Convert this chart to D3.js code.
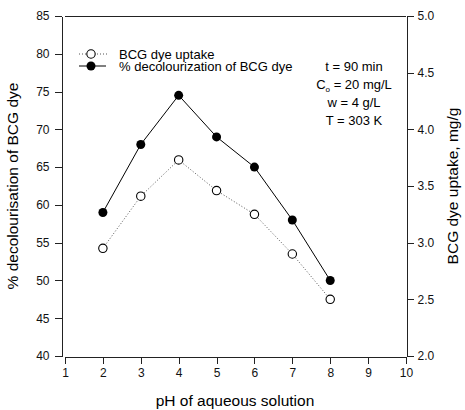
<!DOCTYPE html>
<html>
<head>
<meta charset="utf-8">
<script src="https://cdn.jsdelivr.net/npm/d3@7"></script>
<style>
body { margin: 0; background: #fff; }
svg { font-family: "Liberation Sans", Arial, sans-serif; }
.axis path, .axis line { stroke: #222; stroke-width: 1; shape-rendering: crispEdges; }
.axis text { font-size: 12px; fill: #111; }
</style>
</head>
<body>
<svg id="chart" width="465" height="410"></svg>
<script>

var phValues = [2, 3, 4, 5, 6, 7, 8];
var decolourisation = [59, 68, 74.5, 69, 65, 58, 50];
var uptake = [2.95, 3.41, 3.73, 3.46, 3.25, 2.90, 2.50];

var xTicks = [1, 2, 3, 4, 5, 6, 7, 8, 9, 10];
var leftTicks = [40, 45, 50, 55, 60, 65, 70, 75, 80, 85];
var rightTicks = [2.0, 2.5, 3.0, 3.5, 4.0, 4.5, 5.0];

var legendLabels = ["BCG dye uptake", "% decolourization of BCG dye"];
var conditions = ["t = 90 min", "C|o| = 20 mg/L", "w = 4 g/L", "T = 303 K"];


var svg = d3.select("#chart");

var plotLeft = 65, plotRight = 406, plotTop = 16, plotBottom = 356;

var x = d3.scaleLinear().domain([1, 10]).range([plotLeft, plotRight]);
var yLeft = d3.scaleLinear().domain([40, 85]).range([plotBottom, plotTop]);
var yRight = d3.scaleLinear().domain([2, 5]).range([plotBottom, plotTop]);

// top frame line
svg.append("line")
	.attr("x1", plotLeft).attr("x2", plotRight)
	.attr("y1", plotTop + 0.5).attr("y2", plotTop + 0.5)
	.attr("stroke", "#222");

svg.append("g")
	.attr("class", "axis")
	.attr("transform", "translate(0," + (plotBottom + 0.5) + ")")
	.call(d3.axisBottom(x).tickValues(xTicks).tickSize(7).tickSizeOuter(0).tickPadding(5)
		.tickFormat(d3.format("d")));

svg.append("g")
	.attr("class", "axis")
	.attr("transform", "translate(" + 61.5 + ",0)")
	.call(d3.axisLeft(yLeft).tickValues(leftTicks).tickSize(7).tickSizeOuter(0).tickPadding(5)
		.tickFormat(d3.format("d")));

svg.append("g")
	.attr("class", "axis")
	.attr("transform", "translate(" + (plotRight + 0.5) + ",0)")
	.call(d3.axisRight(yRight).tickValues(rightTicks).tickSize(7).tickSizeOuter(0).tickPadding(4)
		.tickFormat(d3.format(".1f")));

// axis titles
svg.append("text")
	.attr("x", 235).attr("y", 406)
	.attr("text-anchor", "middle")
	.style("font-size", "15.5px")
	.text("pH of aqueous solution");

svg.append("text")
	.attr("transform", "translate(18,186) rotate(-90)")
	.attr("text-anchor", "middle")
	.style("font-size", "15.5px")
	.text("% decolourisation of BCG dye");

svg.append("text")
	.attr("transform", "translate(458,186) rotate(-90)")
	.attr("text-anchor", "middle")
	.style("font-size", "15.5px")
	.text("BCG dye uptake, mg/g");

// series
var uptakeLine = d3.line()
	.x(function(d, i) { return x(phValues[i]); })
	.y(function(d) { return yRight(d); });

var decolLine = d3.line()
	.x(function(d, i) { return x(phValues[i]); })
	.y(function(d) { return yLeft(d); });

svg.append("path")
	.datum(uptake)
	.attr("d", uptakeLine)
	.attr("fill", "none")
	.attr("stroke", "#555")
	.attr("stroke-dasharray", "1,2");

svg.append("path")
	.datum(decolourisation)
	.attr("d", decolLine)
	.attr("fill", "none")
	.attr("stroke", "#000");

svg.selectAll(".open")
	.data(uptake)
	.enter()
	.append("circle")
	.attr("class", "open")
	.attr("cx", function(d, i) { return x(phValues[i]); })
	.attr("cy", function(d) { return yRight(d); })
	.attr("r", 4.2)
	.attr("fill", "#fff")
	.attr("stroke", "#000")
	.attr("stroke-width", 1.1);

svg.selectAll(".filled")
	.data(decolourisation)
	.enter()
	.append("circle")
	.attr("class", "filled")
	.attr("cx", function(d, i) { return x(phValues[i]); })
	.attr("cy", function(d) { return yLeft(d); })
	.attr("r", 4.5)
	.attr("fill", "#000");

// legend
var legend = svg.append("g").style("font-size", "13px");

legend.append("line")
	.attr("x1", 79).attr("x2", 108).attr("y1", 54).attr("y2", 54)
	.attr("stroke", "#555").attr("stroke-dasharray", "1,2");
legend.append("circle")
	.attr("cx", 91).attr("cy", 54).attr("r", 4.2)
	.attr("fill", "#fff").attr("stroke", "#000").attr("stroke-width", 1.1);
legend.append("text").attr("x", 119).attr("y", 58.5).text(legendLabels[0]);

legend.append("line")
	.attr("x1", 79).attr("x2", 106).attr("y1", 66).attr("y2", 66)
	.attr("stroke", "#000");
legend.append("circle")
	.attr("cx", 91).attr("cy", 66).attr("r", 4.5)
	.attr("fill", "#000");
legend.append("text").attr("x", 119).attr("y", 70.5).text(legendLabels[1]);

// experimental conditions
var notes = svg.append("g").style("font-size", "13px");

conditions.forEach(function(c, i)
{
	var t = notes.append("text")
		.attr("x", 354)
		.attr("y", 71 + i * 18)
		.attr("text-anchor", "middle");
	var parts = c.split("|");
	if (parts.length > 1)
	{
		t.append("tspan").text(parts[0]);
		t.append("tspan").attr("dy", 3).style("font-size", "8px").text(parts[1]);
		t.append("tspan").attr("dy", -3).text(parts[2]);
	}
	else
	{
		t.text(c);
	}
});

</script>
</body>
</html>
